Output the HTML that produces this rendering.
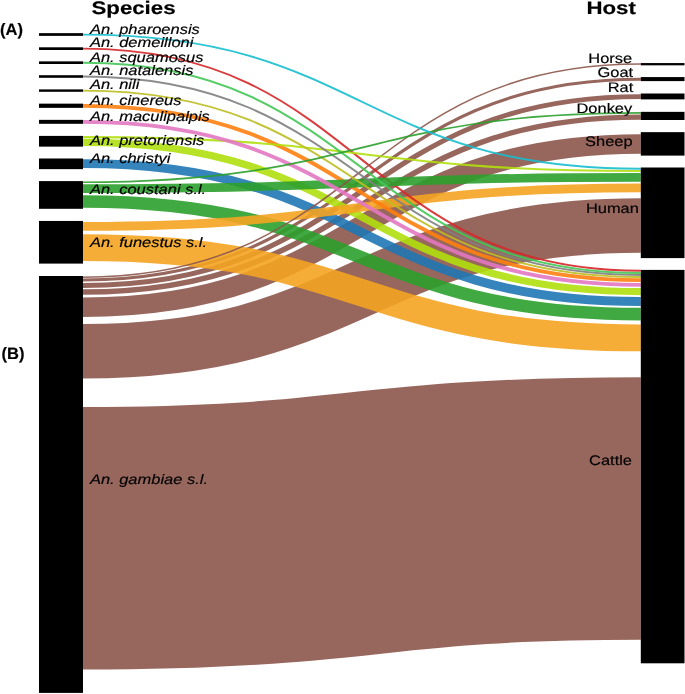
<!DOCTYPE html>
<html><head><meta charset="utf-8"><title>Sankey</title>
<style>html,body{margin:0;padding:0;background:#fff;overflow:hidden}svg{display:block}text{text-rendering:geometricPrecision;stroke:#000;stroke-width:0.18px;font-family:"Liberation Sans",Arial,Helvetica,sans-serif;fill:#000}</style></head><body>
<svg width="685" height="694" viewBox="0 0 685 694">
<rect width="685" height="694" fill="#fff"/>
<g transform="scale(1.19,1)">
<g fill="none" stroke-opacity="0.9">
<path d="M69.75,538.35C304.12,538.35 304.12,508.55 538.49,508.55" stroke="#8c564b" stroke-width="262.50"/>
<path d="M69.75,351.20C304.12,351.20 304.12,225.60 538.49,225.60" stroke="#8c564b" stroke-width="54.50"/>
<path d="M69.75,307.15C304.12,307.15 304.12,143.95 538.49,143.95" stroke="#8c564b" stroke-width="19.50"/>
<path d="M69.75,292.05C304.12,292.05 304.12,117.10 538.49,117.10" stroke="#8c564b" stroke-width="5.40"/>
<path d="M69.75,285.45C304.12,285.45 304.12,96.60 538.49,96.60" stroke="#8c564b" stroke-width="4.90"/>
<path d="M69.75,280.00C304.12,280.00 304.12,79.30 538.49,79.30" stroke="#8c564b" stroke-width="3.05"/>
<path d="M69.75,247.60C304.12,247.60 304.12,337.85 538.49,337.85" stroke="#f4a421" stroke-width="26.90"/>
<path d="M69.75,201.50C304.12,201.50 304.12,314.10 538.49,314.10" stroke="#2ca02c" stroke-width="12.70"/>
<path d="M69.75,163.65C304.12,163.65 304.12,301.50 538.49,301.50" stroke="#1f77b4" stroke-width="8.90"/>
<path d="M69.75,142.30C304.12,142.30 304.12,291.60 538.49,291.60" stroke="#b0df0d" stroke-width="7.20"/>
<path d="M69.75,226.30C304.12,226.30 304.12,187.90 538.49,187.90" stroke="#f4a421" stroke-width="8.75"/>
<path d="M69.75,48.65C304.12,48.65 304.12,270.80 538.49,270.80" stroke="#d62728" stroke-width="1.90"/>
<path d="M69.75,105.75C304.12,105.75 304.12,280.10 538.49,280.10" stroke="#ff7f0e" stroke-width="3.75"/>
<path d="M69.75,188.60C304.12,188.60 304.12,177.40 538.49,177.40" stroke="#2ca02c" stroke-width="8.65"/>
<path d="M69.75,277.15C304.12,277.15 304.12,64.05 538.49,64.05" stroke="#8c564b" stroke-width="1.45"/>
<path d="M69.75,137.10C304.12,137.10 304.12,170.95 538.49,170.95" stroke="#b0df0d" stroke-width="2.15"/>
<path d="M69.75,121.80C304.12,121.80 304.12,284.80 538.49,284.80" stroke="#e377c2" stroke-width="3.80"/>
<path d="M69.75,90.60C304.12,90.60 304.12,276.95 538.49,276.95" stroke="#bcbd22" stroke-width="1.90"/>
<path d="M69.75,76.50C304.12,76.50 304.12,275.00 538.49,275.00" stroke="#7f7f7f" stroke-width="1.85"/>
<path d="M69.75,62.70C304.12,62.70 304.12,273.00 538.49,273.00" stroke="#42c655" stroke-width="2.00"/>
<path d="M69.75,182.25C304.12,182.25 304.12,112.90 538.49,112.90" stroke="#2ca02c" stroke-width="1.70"/>
<path d="M69.75,34.60C304.12,34.60 304.12,168.80 538.49,168.80" stroke="#17becf" stroke-width="1.90"/>
</g>
<g fill="#000">
<rect x="32.77" y="33.15" width="36.97" height="2.71"/>
<rect x="32.77" y="47.30" width="36.97" height="2.70"/>
<rect x="32.77" y="61.35" width="36.97" height="2.65"/>
<rect x="32.77" y="75.20" width="36.97" height="2.60"/>
<rect x="32.77" y="89.40" width="36.97" height="2.40"/>
<rect x="32.77" y="103.65" width="36.97" height="4.20"/>
<rect x="32.77" y="119.85" width="36.97" height="3.95"/>
<rect x="32.77" y="135.90" width="36.97" height="10.75"/>
<rect x="32.77" y="158.50" width="36.97" height="10.65"/>
<rect x="32.77" y="181.10" width="36.97" height="27.70"/>
<rect x="32.77" y="220.95" width="36.97" height="42.65"/>
<rect x="32.77" y="276.00" width="36.97" height="416.90"/>
<rect x="538.49" y="63.06" width="36.72" height="2.27"/>
<rect x="538.49" y="77.07" width="36.72" height="4.03"/>
<rect x="538.49" y="93.50" width="36.72" height="5.90"/>
<rect x="538.49" y="111.85" width="36.72" height="8.15"/>
<rect x="538.49" y="132.15" width="36.72" height="23.45"/>
<rect x="538.49" y="167.50" width="36.72" height="90.60"/>
<rect x="538.49" y="269.90" width="36.72" height="393.40"/>
</g>
<g style="filter:grayscale(1)">
<g font-size="13.85" font-style="italic">
<text x="75.55" y="33.50">An. pharoensis</text>
<text x="75.55" y="47.40">An. demeilloni</text>
<text x="75.55" y="61.70">An. squamosus</text>
<text x="75.55" y="75.40">An. natalensis</text>
<text x="75.55" y="89.40">An. nili</text>
<text x="75.55" y="104.60">An. cinereus</text>
<text x="75.55" y="120.80">An. maculipalpis</text>
<text x="75.55" y="145.00">An. pretoriensis</text>
<text x="75.55" y="163.10">An. christyi</text>
<text x="75.55" y="194.10">An. coustani s.l.</text>
<text x="75.55" y="247.35">An. funestus s.l.</text>
<text x="75.55" y="484.30">An. gambiae s.l.</text>
</g>
<g font-size="13.8" text-anchor="end">
<text x="531.18" y="62.60">Horse</text>
<text x="532.02" y="77.20">Goat</text>
<text x="532.18" y="92.20">Rat</text>
<text x="531.26" y="112.70">Donkey</text>
<text x="531.60" y="146.35">Sheep</text>
<text x="536.89" y="212.60">Human</text>
<text x="531.09" y="465.20">Cattle</text>
</g>
</g>
</g>
<g style="filter:grayscale(1)" font-size="18.2" font-weight="bold">
<text transform="translate(91.5,13.7) scale(1.222,1)">Species</text>
<text transform="translate(586.4,13.9) scale(1.222,1)">Host</text>
</g>
<g style="filter:grayscale(1)" font-size="16.5" font-weight="bold"><text x="0" y="34.9">(A)</text><text x="1.5" y="358.7">(B)</text></g>
</svg>
</body></html>
